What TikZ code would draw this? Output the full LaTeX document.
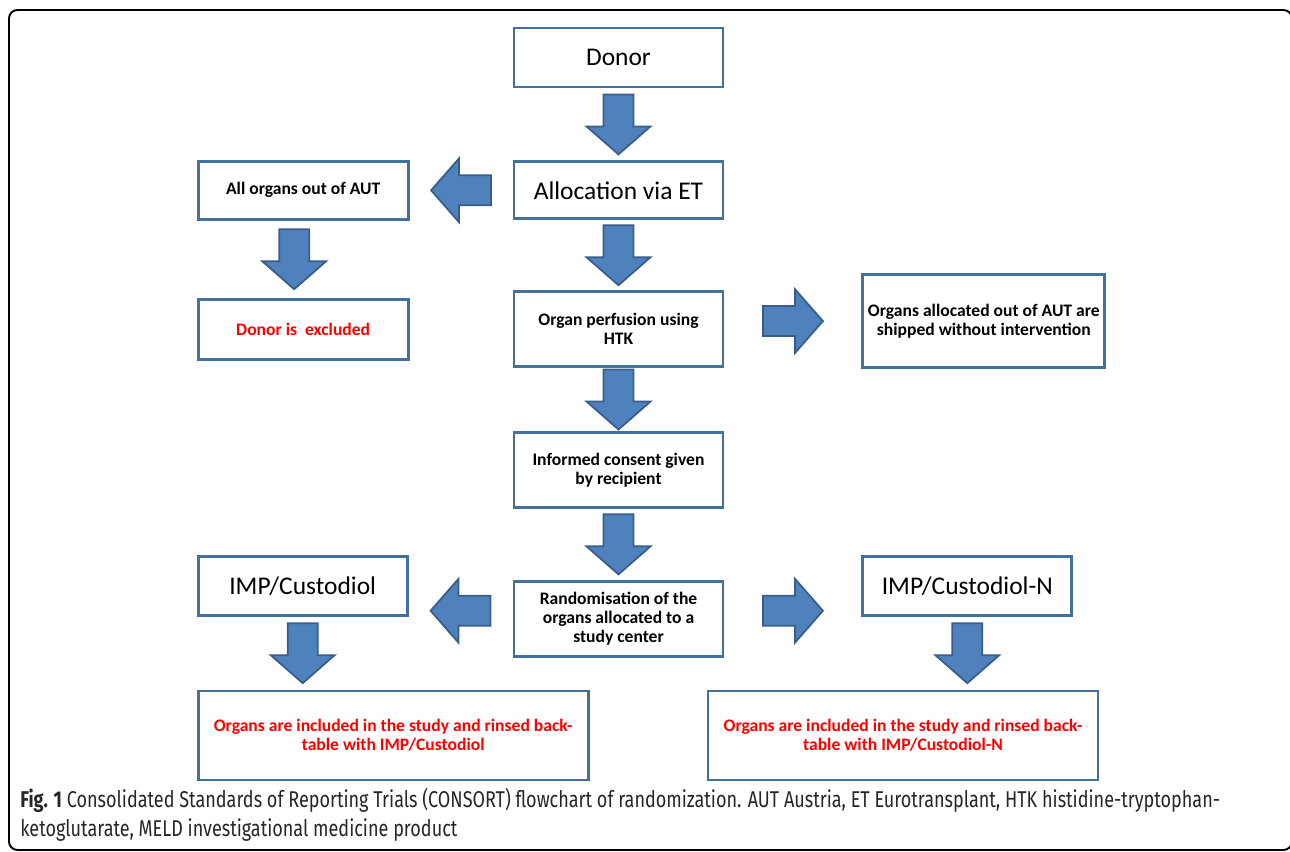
\documentclass[tikz,border=0pt]{standalone}
\usepackage{fontspec}
\setmainfont{Carlito}
\newfontfamily\capfont[FakeStretch=0.79]{Fira Sans}
\usetikzlibrary{positioning, calc}
\definecolor{boxline}{HTML}{41719C}
\definecolor{arrowfill}{HTML}{4F81BD}
\definecolor{arrowline}{HTML}{385D8A}
\tikzstyle{stage} = [rectangle, draw=boxline, line width=1.6pt, fill=white, minimum width=4.18cm, minimum height=1.18cm, align=center, inner sep=2pt, font=\fontsize{14.5}{16}\selectfont]
\tikzstyle{note} = [stage, font=\bfseries\fontsize{10}{11}\selectfont]
\tikzstyle{outcome} = [note, text=red]
\tikzstyle{capline} = [anchor=base west, inner sep=0pt, text=black!85, font=\capfont\fontsize{13}{16}\selectfont]
\tikzstyle{blockarrow} = [fill=arrowfill, draw=arrowline, line width=1pt]
\tikzstyle{fatdown} = [blockarrow, to path={let \p1=(\tikztostart), \p2=(\tikztotarget), \p3=($(\p1)!.5!(\p2)$) in
  (\x1-0.3cm,\y3+0.6cm) -- (\x1+0.3cm,\y3+0.6cm) -- (\x1+0.3cm,\y3-0.04cm) -- (\x1+0.64cm,\y3-0.04cm)
  -- (\x1,\y3-0.6cm) -- (\x1-0.64cm,\y3-0.04cm) -- (\x1-0.3cm,\y3-0.04cm) -- cycle}]
\tikzstyle{fatleft} = [blockarrow, to path={let \p1=(\tikztostart), \p2=(\tikztotarget), \p3=($(\p1)!.5!(\p2)$) in
  (\x3+0.6cm,\y1-0.3cm) -- (\x3+0.6cm,\y1+0.3cm) -- (\x3-0.04cm,\y1+0.3cm) -- (\x3-0.04cm,\y1+0.64cm)
  -- (\x3-0.6cm,\y1) -- (\x3-0.04cm,\y1-0.64cm) -- (\x3-0.04cm,\y1-0.3cm) -- cycle}]
\tikzstyle{fatright} = [blockarrow, to path={let \p1=(\tikztostart), \p2=(\tikztotarget), \p3=($(\p1)!.5!(\p2)$) in
  (\x3-0.6cm,\y1-0.3cm) -- (\x3-0.6cm,\y1+0.3cm) -- (\x3+0.04cm,\y1+0.3cm) -- (\x3+0.04cm,\y1+0.64cm)
  -- (\x3+0.6cm,\y1) -- (\x3+0.04cm,\y1-0.64cm) -- (\x3+0.04cm,\y1-0.3cm) -- cycle}]

\begin{document}
\begin{tikzpicture}
    \useasboundingbox (0,0) rectangle (25.8,-17.04);
    \draw [line width=1.1pt, rounded corners=0.17cm] (0.18,-0.2) rectangle (25.84,-17.0);

    % main column
    \node (donor) [stage] at (12.37,-1.15) {Donor};
    \node (alloc) [stage, minimum height=1.14cm, below=1.44cm of donor] {Allocation via ET};
    \node (perf) [note, minimum height=1.5cm, below=1.4cm of alloc] {Organ perfusion using\\HTK};
    \node (consent) [note, minimum height=1.5cm, below=1.26cm of perf] {Informed consent given\\by recipient};
    \node (random) [note, minimum height=1.5cm, below=1.42cm of consent] {Randomisation of the\\organs allocated to a\\study center};

    % side branches
    \node (allout) [note, minimum width=4.2cm, minimum height=1.16cm, left=2.06cm of alloc] {All organs out of AUT};
    \node (excluded) [outcome, minimum width=4.2cm, minimum height=1.2cm, below=1.54cm of allout] {Donor is~ excluded};
    \node (shipped) [note, minimum width=4.84cm, minimum height=1.86cm, right=2.74cm of perf, yshift=0.16cm] {Organs allocated out of AUT are\\shipped without intervention};
    \node (impL) [stage, left=2.08cm of random, yshift=0.66cm] {IMP/Custodiol};
    \node (impR) [stage, right=2.74cm of random, yshift=0.66cm] {IMP/Custodiol-N};
    \node (inclL) [outcome, minimum width=7.8cm, minimum height=1.78cm, below right=1.46cm and 0cm of impL.south west] {Organs are included in the study and rinsed back-\\table with IMP/Custodiol};
    \node (inclR) [outcome, minimum width=7.8cm, minimum height=1.78cm, right=2.34cm of inclL] {Organs are included in the study and rinsed back-\\table with IMP/Custodiol-N};

    \draw [fatdown] (donor.south) to (alloc.north);
    \draw [fatleft] (alloc.west) to (allout.east);
    \draw [fatdown] ([xshift=-0.18cm]allout.south) to (excluded.north);
    \draw [fatdown] (alloc.south) to (perf.north);
    \draw [fatright] ([yshift=0.16cm]perf.east) to (shipped.west);
    \draw [fatdown] (perf.south) to (consent.north);
    \draw [fatdown] (consent.south) to (random.north);
    \draw [fatleft] ([yshift=0.16cm]random.west) to (impL.east);
    \draw [fatright] ([yshift=0.16cm]random.east) to (impR.west);
    \draw [fatdown] (impL.south) to (inclL.north);
    \draw [fatdown] (impR.south) to (inclR.north);

    % caption
    \node (cap1) [capline] at (0.4,-16.14) {\textbf{Fig. 1} Consolidated Standards of Reporting Trials (CONSORT) flowchart of randomization. AUT Austria, ET Eurotransplant, HTK histidine-tryptophan-};
    \node (cap2) [capline] at ($(cap1.base west)+(0,-0.58)$) {ketoglutarate, MELD investigational medicine product};
\end{tikzpicture}
\end{document}
